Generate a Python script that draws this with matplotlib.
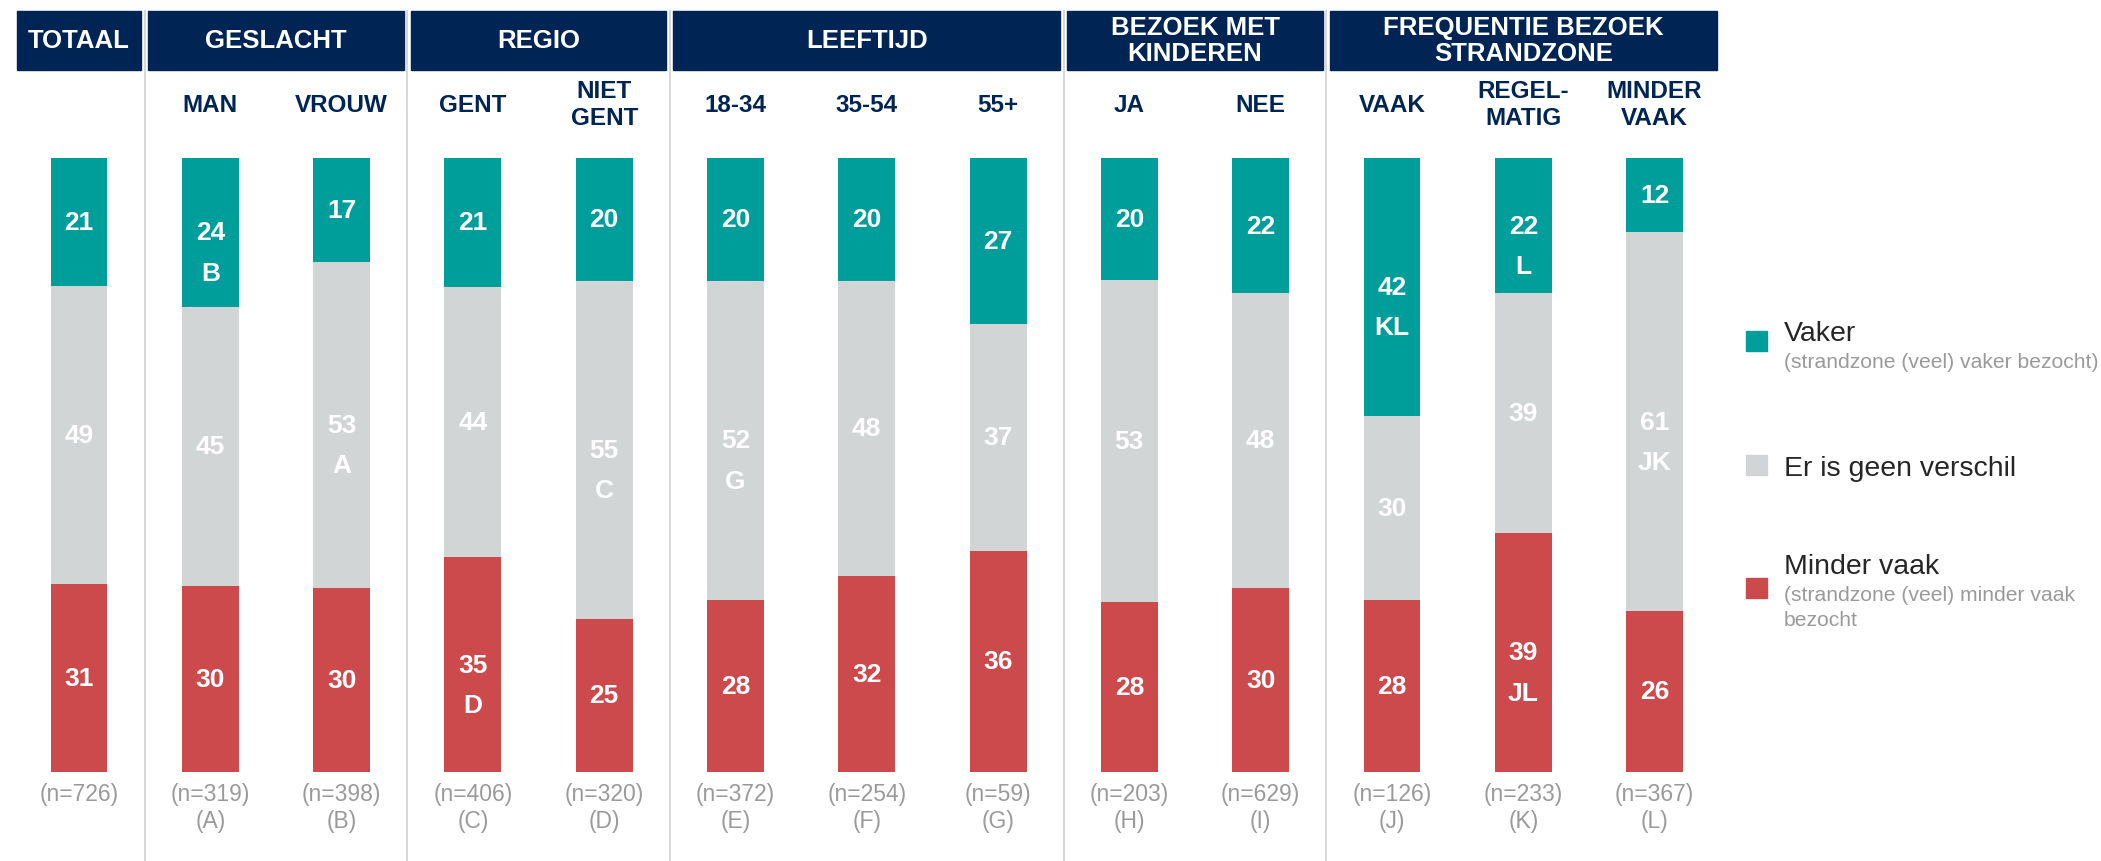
import numpy as np
import matplotlib.pyplot as plt
from matplotlib.patches import Rectangle

plt.rcParams['font.family'] = ['Liberation Sans', 'DejaVu Sans']

# data
categories = ['TOTAAL', 'MAN', 'VROUW', 'GENT', 'NIET\nGENT', '18-34', '35-54', '55+',
              'JA', 'NEE', 'VAAK', 'REGEL-\nMATIG', 'MINDER\nVAAK']
groups = ['TOTAAL', 'GESLACHT', 'REGIO', 'LEEFTIJD', 'BEZOEK MET\nKINDEREN',
          'FREQUENTIE BEZOEK\nSTRANDZONE']
group_sizes = [1, 2, 2, 3, 2, 3]
vaker = [21, 24, 17, 21, 20, 20, 20, 27, 20, 22, 42, 22, 12]
geen_verschil = [49, 45, 53, 44, 55, 52, 48, 37, 53, 48, 30, 39, 61]
minder_vaak = [31, 30, 30, 35, 25, 28, 32, 36, 28, 30, 28, 39, 26]
sig_vaker = ['', 'B', '', '', '', '', '', '', '', '', 'KL', 'L', '']
sig_geen = ['', '', 'A', '', 'C', 'G', '', '', '', '', '', '', 'JK']
sig_minder = ['', '', '', 'D', '', '', '', '', '', '', '', 'JL', '']
n_values = [726, 319, 398, 406, 320, 372, 254, 59, 203, 629, 126, 233, 367]
n_letters = ['', 'A', 'B', 'C', 'D', 'E', 'F', 'G', 'H', 'I', 'J', 'K', 'L']

legend_labels = ['Vaker', 'Er is geen verschil', 'Minder vaak']
legend_notes = [['(strandzone (veel) vaker bezocht)'], [],
                ['(strandzone (veel) minder vaak', 'bezocht']]

TEAL = '#009E9A'
GRIJS = '#D1D5D6'
ROOD = '#CC4A4B'
NAVY = '#002554'
LIJN = '#D4D4D4'

# layout in pixels of the 2101x862 picture
W, H = 2101, 862
X0, DX = 79, 131.3       # centre of first bar, distance between bars
Y0, DY = 159, 6.14       # top of the bars, pixels per percent


def px(p):
    return (p - X0) / DX


def py(p):
    return (p - Y0) / DY


fig = plt.figure(figsize=(W / 100, H / 100), dpi=100)
ax = fig.add_axes([0, 0, 1, 1])
ax.set_xlim(px(0), px(W))
ax.set_ylim(py(H), py(0))
ax.axis('off')

x = np.arange(len(categories))
series = np.array([vaker, geen_verschil, minder_vaak], dtype=float)
pct = series / series.sum(axis=0) * 100
colors = [TEAL, GRIJS, ROOD]
sigs = [sig_vaker, sig_geen, sig_minder]

bottom = np.zeros(len(categories))
for k in range(3):
    ax.bar(x, pct[k], bottom=bottom, width=0.434, color=colors[k], zorder=2)
    for i in range(len(x)):
        mid = bottom[i] + pct[k][i] / 2
        ax.text(x[i], mid, str(int(series[k][i])), color='white', fontsize=19,
                fontweight='bold', ha='center', va='center', zorder=3)
        if sigs[k][i]:
            ax.annotate(sigs[k][i], (x[i], mid), xytext=(0, -29),
                        textcoords='offset points', color='white', fontsize=19,
                        fontweight='bold', ha='center', va='center', zorder=3)
    bottom += pct[k]

# group headers and separators
start = 0
for g, size in zip(groups, group_sizes):
    left = start - 0.5 + 0.027
    right = start + size - 0.5 - 0.027
    ax.add_patch(Rectangle((left, py(12)), right - left, py(71) - py(12),
                           color=NAVY, zorder=2))
    ax.text((left + right) / 2, py(41), g, color='white', fontsize=18.5,
            fontweight='bold', ha='center', va='center', linespacing=1.15,
            zorder=3)
    if start > 0:
        ax.plot([start - 0.5, start - 0.5], [py(12), py(H)], color=LIJN,
                lw=1.3, zorder=1)
    start += size

# column labels and sample sizes
for i, c in enumerate(categories):
    if i > 0:
        ax.text(x[i], py(105), c, color=NAVY, fontsize=17.5, fontweight='bold',
                ha='center', va='center', linespacing=1.2)
    ax.text(x[i], py(795), f'(n={n_values[i]})', color='#9A9A9A', fontsize=16.5,
            ha='center', va='center')
    if n_letters[i]:
        ax.text(x[i], py(822), f'({n_letters[i]})', color='#9A9A9A',
                fontsize=16.5, ha='center', va='center')

# legend
sq_top = [332, 456, 579]
lab_base = [341, 476, 574]
for k in range(3):
    ax.add_patch(Rectangle((px(1746), py(sq_top[k])), px(1767) - px(1746),
                           py(sq_top[k] + 20) - py(sq_top[k]), color=colors[k]))
    ax.text(px(1784), py(lab_base[k]), legend_labels[k], color='#262626',
            fontsize=20.5, ha='left', va='baseline')
    for j, line in enumerate(legend_notes[k]):
        ax.text(px(1784), py(lab_base[k] + 27 + 25 * j), line, color='#9A9A9A',
                fontsize=15.2, ha='left', va='baseline')

fig.savefig('out.png', dpi=100)
